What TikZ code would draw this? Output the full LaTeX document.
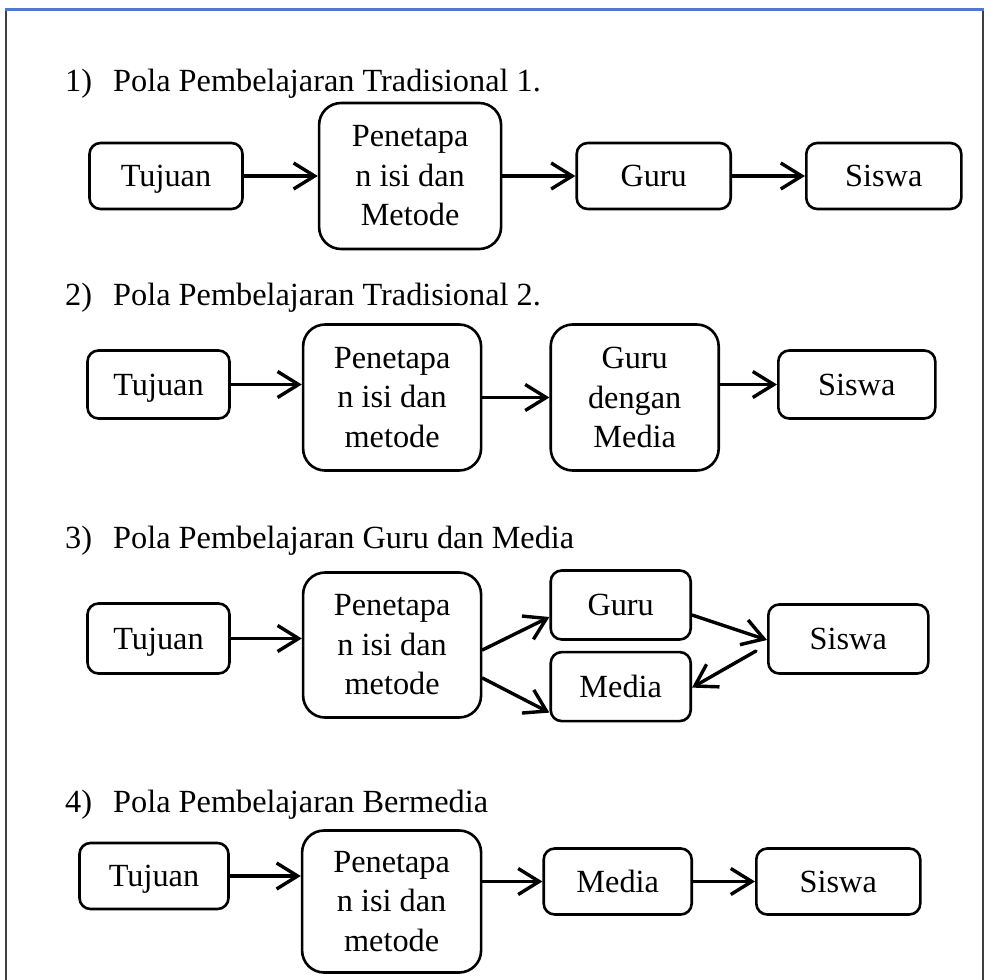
\documentclass[tikz,border=0pt]{standalone}
\usepackage{fontspec}
\setmainfont{Liberation Serif}
\usepackage{tikz}
\usetikzlibrary{arrows.meta,positioning}
\definecolor{pbBlue}{HTML}{4F7AC7}
\definecolor{pbFrame}{HTML}{404040}

\begin{document}
\begin{tikzpicture}[
  x=1pt,y=-1pt,
  font=\fontsize{32.3}{39.5}\selectfont,
  frame/.style={draw,line width=2.6pt,inner sep=0pt,align=center},
  box/.style={frame,rounded corners=11pt,minimum width=152pt,minimum height=66pt,
              text height=21.5pt,text depth=0pt},
  tall/.style={frame,rounded corners=22pt,minimum width=178pt,minimum height=146pt},
  head/.style={anchor=base west,inner sep=0pt},
  ar/.style={-{Straight Barb[length=21pt,width=26pt]},line width=3.4pt,line cap=round}]

\useasboundingbox (0,0) rectangle (989,980);
\draw[pbFrame,line width=1.5pt] (6,9) -- (6,980);
\draw[pbFrame,line width=1.5pt] (983,9) -- (983,980);
\draw[pbBlue,line width=3pt] (5,9) -- (984,9);

\node[head] (t1) at (65,91) {\makebox[48pt][l]{1)}Pola Pembelajaran Tradisional 1.};
\node[box,minimum width=153pt] (tuj1) at (166,176) {Tujuan};
\node[tall,right=74pt of tuj1,minimum width=182pt] (pen1) {Penetapa\\n isi dan\\Metode};
\node[box,right=73pt of pen1,minimum width=154pt] (guru1) {Guru};
\node[box,right=73pt of guru1,minimum width=155pt] (sis1) {Siswa};

\node[head] (t2) at (65,305) {\makebox[48pt][l]{2)}Pola Pembelajaran Tradisional 2.};
\node[box,minimum width=142pt,minimum height=68pt] (tuj2) at (158.5,384.5) {Tujuan};
\node[tall,right=71pt of tuj2,yshift=-13pt] (pen2) {Penetapa\\n isi dan\\metode};
\node[tall,right=67pt of pen2,minimum width=168pt] (guru2) {Guru\\dengan\\Media};
\node[box,right=57pt of guru2,yshift=13pt,minimum width=157pt,minimum height=68pt] (sis2) {Siswa};

\node[head] (t3) at (65,548) {\makebox[48pt][l]{3)}Pola Pembelajaran Guru dan Media};
\node[box,minimum width=142pt,minimum height=70pt] (tuj3) at (158.5,638.5) {Tujuan};
\node[tall,right=71pt of tuj3,yshift=-6.5pt,minimum height=145pt] (pen3) {Penetapa\\n isi dan\\metode};
\node[box,right=67pt of pen3,yshift=40pt,minimum width=140pt,minimum height=69pt] (guru3) {Guru};
\node[box,below=10pt of guru3,minimum width=140pt,minimum height=69pt] (media3) {Media};
\node[box,right=75pt of guru3,yshift=-34pt,minimum width=160pt,minimum height=69pt] (sis3) {Siswa};

\node[head] (t4) at (65,812) {\makebox[48pt][l]{4)}Pola Pembelajaran Bermedia};
\node[box,minimum width=149pt] (tuj4) at (154,876) {Tujuan};
\node[tall,right=71pt of tuj4,yshift=-25.5pt,minimum width=179pt,minimum height=142pt] (pen4) {Penetapa\\n isi dan\\metode};
\node[box,right=60pt of pen4,yshift=20pt,minimum width=148pt] (media4) {Media};
\node[box,right=62pt of media4,minimum width=164pt] (sis4) {Siswa};

\draw[ar] (tuj1) -- (pen1);
\draw[ar] (pen1) -- (guru1);
\draw[ar] (guru1) -- (sis1);
\draw[ar] (tuj2.east) -- (tuj2.east -| pen2.west);
\draw[ar] (pen2) -- (guru2);
\draw[ar] (guru2.east |- sis2.west) -- (sis2.west);
\draw[ar] (tuj3.east) -- (tuj3.east -| pen3.west);
\draw[ar] ([yshift=-5pt]pen3.east) -- ([yshift=-12pt]guru3.west);
\draw[ar] ([yshift=-33pt]pen3.east) -- ([yshift=-26pt]media3.west);
\draw[ar] ([yshift=-10pt]guru3.east) -- ([yshift=-1pt]sis3.west);
\draw[ar] ([xshift=-11pt,yshift=-12pt]sis3.west) -- ([yshift=-1pt]media3.east);
\draw[ar] (tuj4.east) -- (tuj4.east -| pen4.west);
\draw[ar] (pen4.east |- media4.west) -- (media4.west);
\draw[ar] (media4) -- (sis4);
\end{tikzpicture}
\end{document}
